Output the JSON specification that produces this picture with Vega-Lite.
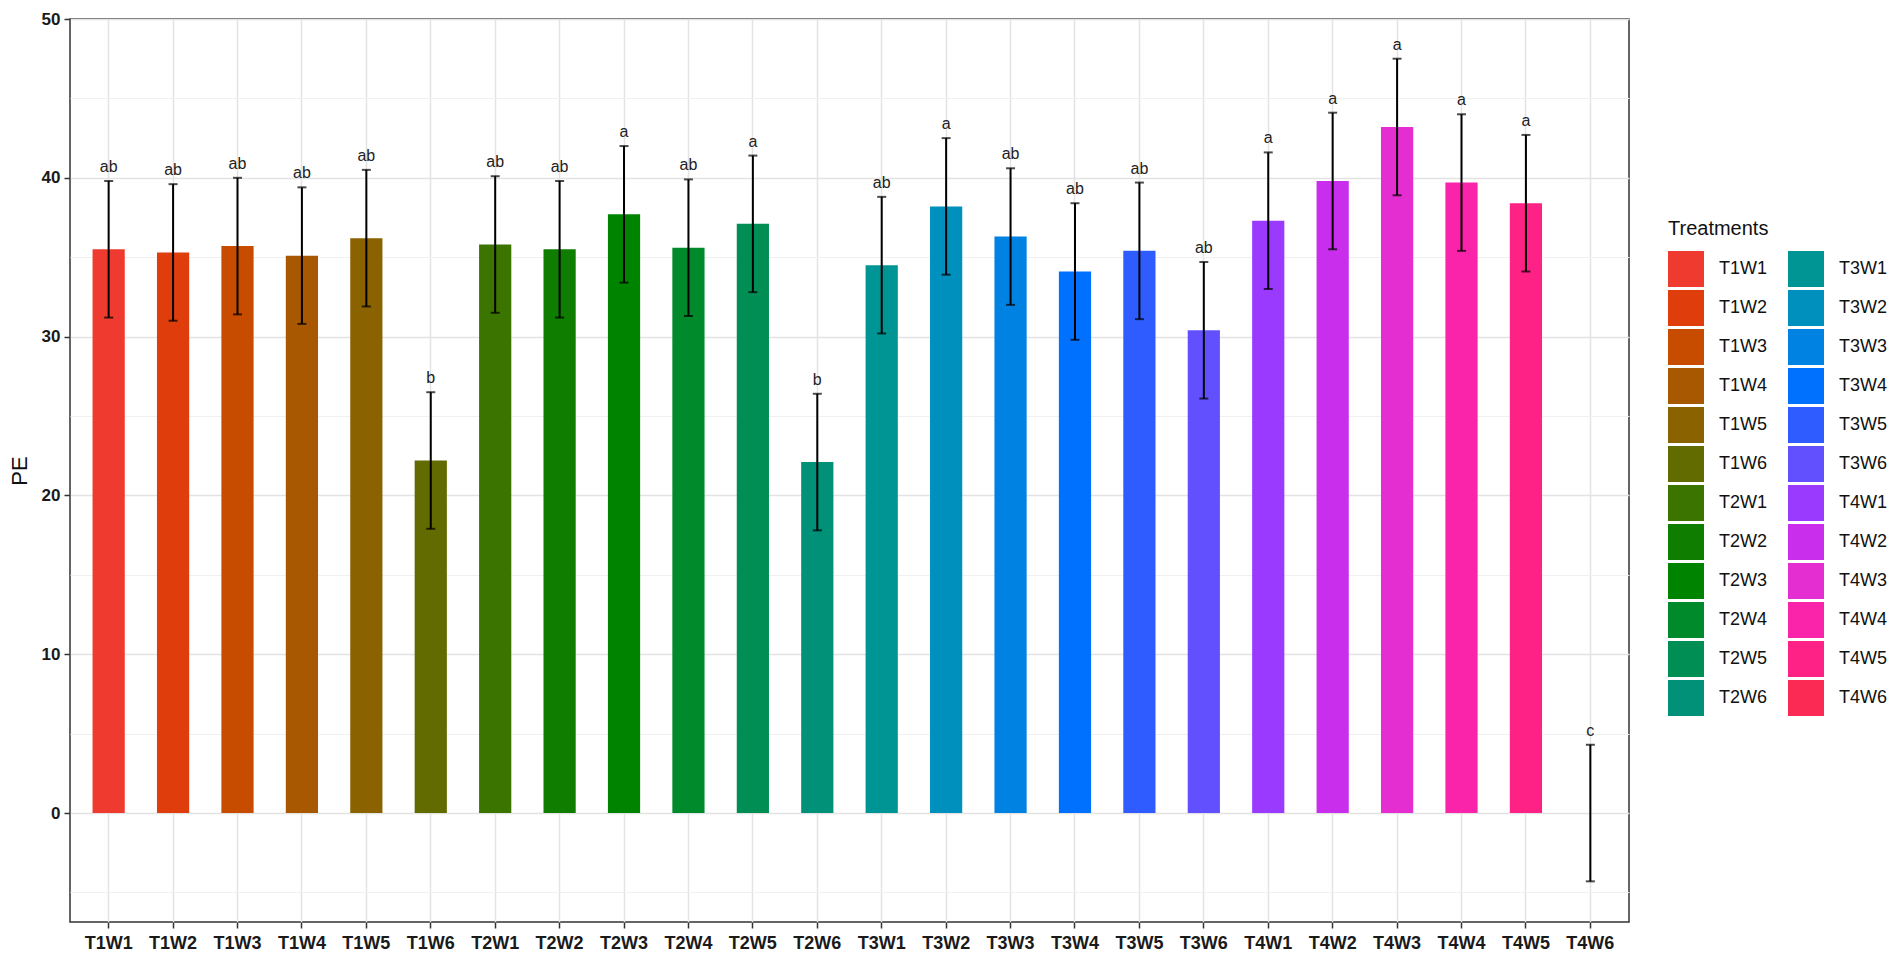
{
  "$schema": "https://vega.github.io/schema/vega-lite/v6.json",
  "width": 1559,
  "height": 903,
  "autosize": "none",
  "padding": {"left": 70, "top": 19, "right": 273, "bottom": 46},
  "background": "white",
  "config": {
    "font": "Liberation Sans",
    "view": {"stroke": "#333333", "strokeWidth": 1.5},
    "axis": {"domain": false}
  },
  "data": {
    "values": [
      {"t": "T1W1", "pe": 35.5, "lo": 31.2, "hi": 39.8, "grp": "ab"},
      {"t": "T1W2", "pe": 35.3, "lo": 31.0, "hi": 39.6, "grp": "ab"},
      {"t": "T1W3", "pe": 35.7, "lo": 31.4, "hi": 40.0, "grp": "ab"},
      {"t": "T1W4", "pe": 35.1, "lo": 30.8, "hi": 39.4, "grp": "ab"},
      {"t": "T1W5", "pe": 36.2, "lo": 31.9, "hi": 40.5, "grp": "ab"},
      {"t": "T1W6", "pe": 22.2, "lo": 17.9, "hi": 26.5, "grp": "b"},
      {"t": "T2W1", "pe": 35.8, "lo": 31.5, "hi": 40.1, "grp": "ab"},
      {"t": "T2W2", "pe": 35.5, "lo": 31.2, "hi": 39.8, "grp": "ab"},
      {"t": "T2W3", "pe": 37.7, "lo": 33.4, "hi": 42.0, "grp": "a"},
      {"t": "T2W4", "pe": 35.6, "lo": 31.3, "hi": 39.9, "grp": "ab"},
      {"t": "T2W5", "pe": 37.1, "lo": 32.8, "hi": 41.4, "grp": "a"},
      {"t": "T2W6", "pe": 22.1, "lo": 17.8, "hi": 26.4, "grp": "b"},
      {"t": "T3W1", "pe": 34.5, "lo": 30.2, "hi": 38.8, "grp": "ab"},
      {"t": "T3W2", "pe": 38.2, "lo": 33.9, "hi": 42.5, "grp": "a"},
      {"t": "T3W3", "pe": 36.3, "lo": 32.0, "hi": 40.6, "grp": "ab"},
      {"t": "T3W4", "pe": 34.1, "lo": 29.8, "hi": 38.4, "grp": "ab"},
      {"t": "T3W5", "pe": 35.4, "lo": 31.1, "hi": 39.7, "grp": "ab"},
      {"t": "T3W6", "pe": 30.4, "lo": 26.1, "hi": 34.7, "grp": "ab"},
      {"t": "T4W1", "pe": 37.3, "lo": 33.0, "hi": 41.6, "grp": "a"},
      {"t": "T4W2", "pe": 39.8, "lo": 35.5, "hi": 44.1, "grp": "a"},
      {"t": "T4W3", "pe": 43.2, "lo": 38.9, "hi": 47.5, "grp": "a"},
      {"t": "T4W4", "pe": 39.7, "lo": 35.4, "hi": 44.0, "grp": "a"},
      {"t": "T4W5", "pe": 38.4, "lo": 34.1, "hi": 42.7, "grp": "a"},
      {"t": "T4W6", "pe": 0, "lo": -4.3, "hi": 4.3, "grp": "c"}
    ]
  },
  "encoding": {
    "x": {
      "field": "t",
      "type": "nominal",
      "sort": null,
      "title": null,
      "scale": {"paddingInner": 0.5, "paddingOuter": 0.35},
      "axis": {
        "grid": true,
        "bandPosition": 0.5,
        "labelAngle": 0,
        "labelFontSize": 18,
        "labelFontWeight": "bold",
        "labelColor": "#1a1a1a",
        "labelPadding": 6,
        "tickColor": "#333333",
        "tickSize": 6,
        "tickWidth": 1.5,
        "gridColor": "#e3e3e3",
        "gridWidth": 1.5
      }
    }
  },
  "layer": [
    {
      "mark": {"type": "bar"},
      "encoding": {
        "y": {
          "field": "pe",
          "type": "quantitative",
          "title": "PE",
          "scale": {"domain": [-6.86, 50], "nice": false, "zero": false},
          "axis": {
            "values": [-5, 0, 5, 10, 15, 20, 25, 30, 35, 40, 45, 50],
            "labelExpr": "datum.value % 10 === 0 ? datum.label : ''",
            "labelFontSize": 17,
            "labelFontWeight": "bold",
            "labelColor": "#1a1a1a",
            "labelPadding": 4,
            "tickColor": "#333333",
            "tickSize": 6,
            "tickWidth": 1.5,
            "tickOpacity": {"condition": {"test": "datum.value % 10 === 0", "value": 1}, "value": 0},
            "gridColor": {"condition": {"test": "datum.value % 10 === 0", "value": "#e3e3e3"}, "value": "#f0f0f0"},
            "gridWidth": {"condition": {"test": "datum.value % 10 === 0", "value": 1.5}, "value": 1},
            "titleFontSize": 22,
            "titleFontWeight": "normal",
            "titleColor": "#111111",
            "titlePadding": 10
          }
        },
        "color": {
          "field": "t",
          "type": "nominal",
          "scale": {
            "domain": ["T1W1", "T1W2", "T1W3", "T1W4", "T1W5", "T1W6", "T2W1", "T2W2", "T2W3", "T2W4", "T2W5", "T2W6", "T3W1", "T3W2", "T3W3", "T3W4", "T3W5", "T3W6", "T4W1", "T4W2", "T4W3", "T4W4", "T4W5", "T4W6"],
            "range": ["#EF3B2F", "#DF3E0C", "#C84C00", "#A85800", "#8A6200", "#626B00", "#3C7400", "#0E7D00", "#008400", "#008A2C", "#008E55", "#009178", "#009595", "#0090BE", "#0082E2", "#0070FF", "#2F5CFF", "#6250FF", "#9B3AFF", "#C92EEC", "#E52ED2", "#FA24AA", "#FF2286", "#FB2A55"]
          },
          "legend": {
            "title": "Treatments",
            "orient": "none",
            "legendX": 1598,
            "legendY": 200,
            "columns": 2,
            "columnPadding": 20,
            "rowPadding": 3,
            "symbolType": "square",
            "symbolSize": 1296,
            "symbolStrokeWidth": 0,
            "symbolOpacity": 1,
            "labelFontSize": 18,
            "labelColor": "#111111",
            "labelOffset": 15,
            "titleFontSize": 20,
            "titleFontWeight": "normal",
            "titleColor": "#111111",
            "titlePadding": 12
          }
        }
      }
    },
    {
      "mark": {"type": "errorbar", "ticks": true, "size": 9, "thickness": 2, "color": "black"},
      "encoding": {
        "y": {"field": "lo", "type": "quantitative", "title": "PE"},
        "y2": {"field": "hi"}
      }
    },
    {
      "mark": {"type": "text", "fontSize": 16, "color": "#222222", "baseline": "alphabetic", "dy": -9},
      "encoding": {
        "y": {"field": "hi", "type": "quantitative", "title": "PE"},
        "text": {"field": "grp"}
      }
    }
  ]
}
